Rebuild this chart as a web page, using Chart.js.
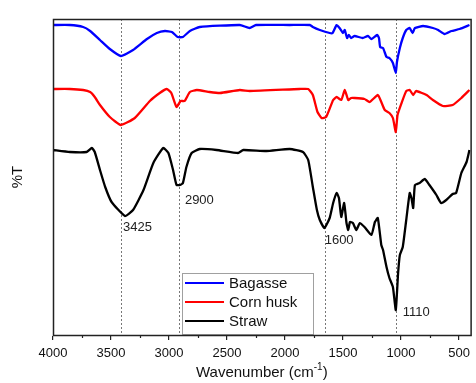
<!DOCTYPE html>
<html>
<head>
<meta charset="utf-8">
<script src="https://cdn.jsdelivr.net/npm/chart.js@4"></script>
<style>
  html, body { margin: 0; padding: 0; background: #fff; }
  #wrap { width: 476px; height: 383px; position: relative; }
</style>
</head>
<body>
<div id="wrap"><canvas id="ftir"></canvas></div>
<script>
// wavenumber (cm-1) and transmittance (arbitrary %T, offset per sample)
const bagasseWave = [4000, 3855, 3740, 3680, 3595, 3510, 3415, 3310, 3190, 3105, 3035, 2975, 2925, 2880, 2820, 2735, 2390, 2305, 2250, 1960, 1785, 1760, 1700, 1615, 1590, 1555, 1530, 1500, 1485, 1465, 1450, 1430, 1400, 1330, 1285, 1255, 1205, 1190, 1180, 1155, 1125, 1100, 1070, 1045, 1035, 1010, 985, 955, 925, 900, 880, 810, 725, 680, 625, 565, 495, 410];
const bagasseT = [310, 310, 308, 304, 295, 286, 279, 285, 296, 302, 304, 303, 298, 298, 304, 308, 310, 307, 310, 310, 310, 308, 305, 302, 302, 310, 307, 302, 305, 297, 300, 297, 299, 297, 299, 296, 300, 297, 288, 287, 278, 277, 272, 262, 273, 287, 297, 305, 307, 302, 307, 309, 307, 305, 301, 304, 306, 310];

const cornWave = [4000, 3855, 3740, 3680, 3640, 3595, 3510, 3415, 3295, 3165, 3080, 3020, 2980, 2935, 2900, 2865, 2820, 2760, 2650, 2560, 2390, 2305, 1875, 1800, 1760, 1720, 1685, 1645, 1585, 1555, 1515, 1485, 1455, 1430, 1400, 1315, 1270, 1200, 1170, 1140, 1100, 1070, 1045, 1030, 995, 955, 925, 895, 870, 780, 725, 640, 555, 480, 410];
const cornT = [246, 246, 245, 243, 238, 230, 218, 210, 217, 234, 242, 246, 242, 228, 234, 234, 243, 245, 243, 242, 245, 244, 246, 246, 240, 223, 217, 218, 235, 238, 235, 245, 235, 237, 237, 236, 233, 240, 233, 225, 222, 217, 203, 220, 232, 244, 245, 240, 244, 240, 235, 229, 230, 237, 245];

const strawWave = [4000, 3855, 3710, 3665, 3640, 3595, 3550, 3495, 3380, 3310, 3220, 3135, 3050, 3005, 2965, 2935, 2905, 2880, 2850, 2805, 2735, 2590, 2405, 2360, 2160, 1960, 1845, 1800, 1760, 1725, 1700, 1660, 1615, 1585, 1555, 1535, 1515, 1490, 1470, 1455, 1440, 1415, 1385, 1355, 1315, 1255, 1225, 1200, 1170, 1155, 1125, 1100, 1070, 1045, 1025, 1010, 985, 955, 925, 910, 895, 880, 840, 795, 755, 695, 655, 610, 555, 525, 480, 435, 410];
const strawT = [185, 183, 183, 187, 183, 165, 148, 133, 119, 125, 145, 172, 187, 182, 165, 150, 150, 152, 168, 182, 186, 185, 182, 185, 184, 186, 183, 175, 148, 125, 115, 107, 117, 132, 142, 137, 118, 132, 112, 105, 113, 112, 105, 112, 108, 100, 113, 117, 90, 85, 68, 57, 48, 25, 62, 80, 88, 115, 142, 137, 127, 150, 152, 156, 150, 140, 132, 135, 141, 142, 162, 173, 185];

const xTicks = [4000, 3500, 3000, 2500, 2000, 1500, 1000, 500];
const xMinorTicks = [3750, 3250, 2750, 2250, 1750, 1250, 750];
const markerLines = [3415, 2915, 1655, 1045];
const peakLabels = ['3425', '2900', '1600', '1110'];
const peakLabelWave = [3397, 2863, 1658, 986];
const peakLabelT = [108, 135, 95, 23];

function pairs(xs, ys) {
  return xs.map((x, i) => ({ x: x, y: ys[i] }));
}

const FONT = "'Liberation Sans', Arial, sans-serif";

const decorations = {
  id: 'decorations',
  beforeDatasetsDraw(chart) {
    const { ctx, chartArea: a, scales: { x } } = chart;
    ctx.save();
    ctx.strokeStyle = '#777';
    ctx.lineWidth = 1;
    ctx.setLineDash([2, 2]);
    markerLines.forEach(v => {
      const px = Math.round(x.getPixelForValue(v)) + 0.5;
      ctx.beginPath();
      ctx.moveTo(px, a.top);
      ctx.lineTo(px, a.bottom);
      ctx.stroke();
    });
    ctx.restore();
  },
  afterDatasetsDraw(chart) {
    const { ctx, scales: { x, y } } = chart;
    ctx.save();
    // peak labels
    ctx.font = '13px ' + FONT;
    ctx.fillStyle = '#222';
    ctx.textAlign = 'left';
    ctx.textBaseline = 'middle';
    peakLabels.forEach((t, i) => {
      ctx.fillText(t, x.getPixelForValue(peakLabelWave[i]), y.getPixelForValue(peakLabelT[i]));
    });
    // legend
    const bx = 182, by = 273, bw = 131, bh = 61;
    ctx.fillStyle = '#fff';
    ctx.fillRect(bx, by, bw, bh);
    ctx.strokeStyle = '#a0a0a0';
    ctx.lineWidth = 1;
    ctx.strokeRect(bx + 0.5, by + 0.5, bw, bh);
    ctx.font = '15px ' + FONT;
    chart.data.datasets.forEach((ds, i) => {
      const ly = by + 10 + i * 19;
      ctx.strokeStyle = ds.borderColor;
      ctx.lineWidth = 2;
      ctx.beginPath();
      ctx.moveTo(bx + 3, ly);
      ctx.lineTo(bx + 42, ly);
      ctx.stroke();
      ctx.fillStyle = '#111';
      ctx.fillText(ds.label, bx + 47, ly + 1);
    });
    ctx.restore();
  },
  afterDraw(chart) {
    const { ctx, chartArea: a, scales: { x } } = chart;
    ctx.save();
    ctx.strokeStyle = '#222';
    ctx.lineWidth = 1.5;
    ctx.strokeRect(a.left + 0.5, a.top + 0.5, a.right - a.left, a.bottom - a.top);
    // minor ticks
    ctx.lineWidth = 1.2;
    xMinorTicks.forEach(v => {
      const px = Math.round(x.getPixelForValue(v)) + 0.5;
      ctx.beginPath();
      ctx.moveTo(px, a.bottom);
      ctx.lineTo(px, a.bottom + 3);
      ctx.stroke();
    });
    // x axis title with superscript
    const main = 'Wavenumber (cm', sup = '-1', end = ')';
    ctx.fillStyle = '#111';
    ctx.textBaseline = 'middle';
    ctx.font = '15px ' + FONT;
    const w1 = ctx.measureText(main).width;
    const w3 = ctx.measureText(end).width;
    ctx.font = '10px ' + FONT;
    const w2 = ctx.measureText(sup).width;
    const cx = (a.left + a.right) / 2;
    let tx = cx - (w1 + w2 + w3) / 2;
    const ty = 373;
    ctx.textAlign = 'left';
    ctx.font = '15px ' + FONT;
    ctx.fillText(main, tx, ty);
    ctx.font = '10px ' + FONT;
    ctx.fillText(sup, tx + w1, ty - 6);
    ctx.font = '15px ' + FONT;
    ctx.fillText(end, tx + w1 + w2, ty);
    ctx.restore();
  }
};

new Chart(document.getElementById('ftir'), {
  type: 'line',
  data: {
    datasets: [
      { label: 'Bagasse', data: pairs(bagasseWave, bagasseT), borderColor: '#0000ff' },
      { label: 'Corn husk', data: pairs(cornWave, cornT), borderColor: '#ff0000' },
      { label: 'Straw', data: pairs(strawWave, strawT), borderColor: '#000000' }
    ]
  },
  options: {
    responsive: true,
    maintainAspectRatio: false,
    animation: false,
    layout: { padding: { top: 19, right: 5, left: 0, bottom: 0 } },
    elements: {
      point: { radius: 0 },
      line: { borderWidth: 2.3, tension: 0.15, fill: false }
    },
    plugins: {
      legend: { display: false },
      tooltip: { enabled: false }
    },
    scales: {
      x: {
        type: 'linear',
        reverse: true,
        min: 400,
        max: 4000,
        afterBuildTicks: s => { s.ticks = xTicks.map(v => ({ value: v })); },
        afterFit: s => { s.height = 48; },
        ticks: {
          padding: 6,
          color: '#111',
          maxRotation: 0,
          autoSkip: false,
          font: { size: 13, family: FONT },
          callback: v => String(v)
        },
        grid: { drawOnChartArea: false, tickLength: 5, color: '#222', lineWidth: 1.2 },
        border: { display: true, color: '#222' }
      },
      y: {
        min: 0,
        max: 316,
        afterFit: s => { s.width = 53; },
        ticks: { display: false },
        grid: { display: false },
        border: { display: true, color: '#222' },
        title: {
          display: true,
          text: '%T',
          color: '#111',
          padding: { top: 9, bottom: 0 },
          font: { size: 15, family: FONT }
        }
      }
    }
  },
  plugins: [decorations]
});
</script>
</body>
</html>
